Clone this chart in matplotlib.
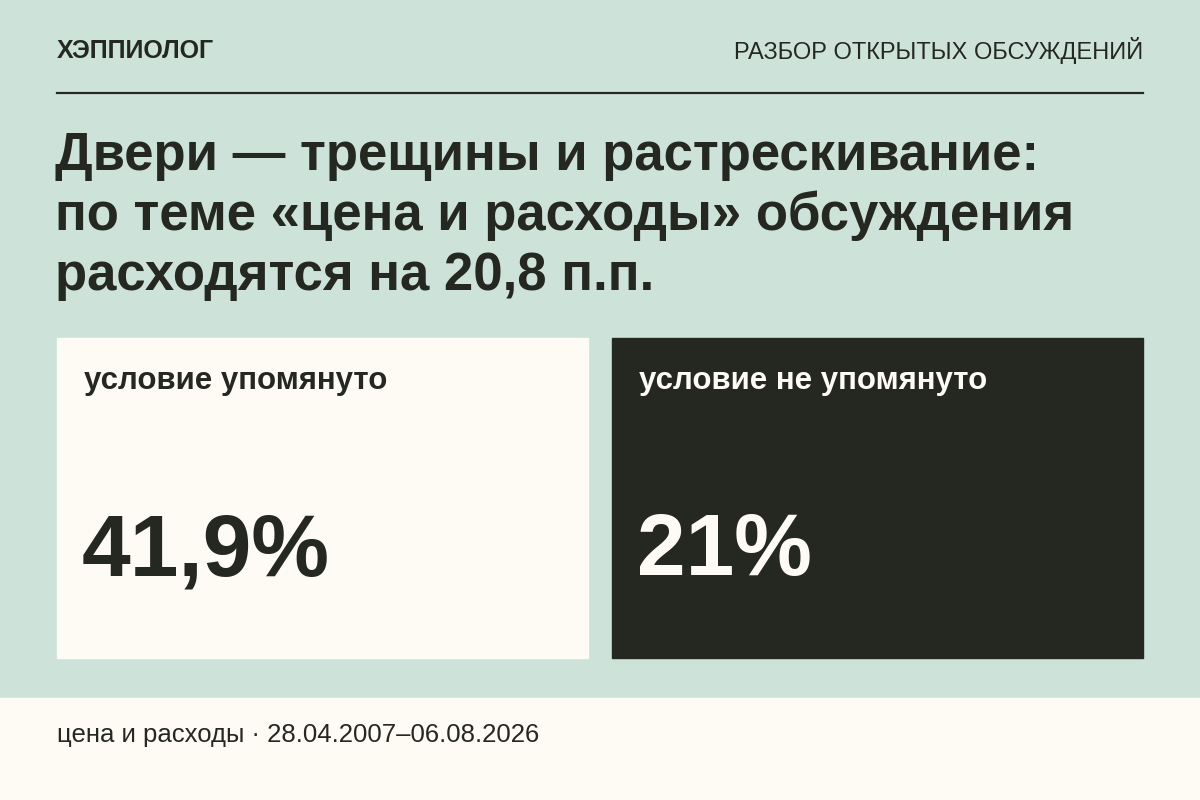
import matplotlib
matplotlib.use("Agg")
import matplotlib.pyplot as plt
from matplotlib.patches import Rectangle

BRAND = "ХЭППИОЛОГ"
SECTION = "РАЗБОР ОТКРЫТЫХ ОБСУЖДЕНИЙ"
TITLE = ["Двери — трещины и растрескивание:",
         "по теме «цена и расходы» обсуждения",
         "расходятся на 20,8 п.п."]
LABELS = ["условие упомянуто", "условие не упомянуто"]
VALUES = ["41,9%", "21%"]
FOOTER = "цена и расходы · 28.04.2007–06.08.2026"

BG = "#cde3da"
CREAM = "#fdfbf4"
DARK = "#252821"

plt.rcParams['font.family'] = ['Liberation Sans', 'DejaVu Sans']
W, H = 1200, 800
fig = plt.figure(figsize=(12, 8), dpi=100)
fig.patch.set_facecolor(BG)

def fy(py): return 1 - py / H
def fx(px): return px / W

def rect(x0, y0, x1, y1, color):
    fig.patches.append(Rectangle((fx(x0), fy(y1)), fx(x1) - fx(x0), fy(y0) - fy(y1),
                                 transform=fig.transFigure, color=color, zorder=0))

fig.text(fx(57), fy(51), BRAND, fontsize=18, fontweight="bold", color=DARK, va="center")
fig.text(fx(1143), fy(51), SECTION, fontsize=17, color=DARK, va="center", ha="right")
fig.add_artist(plt.Line2D([fx(57), fx(1143)], [fy(93), fy(93)], color=DARK, lw=1.6))

for i, line in enumerate(TITLE):
    fig.text(fx(55), fy(156 + i * 60), line, fontsize=38, fontweight="bold", color=DARK, va="center")

panels = [(57, 588, CREAM, DARK), (612, 1143, DARK, CREAM)]
for (x0, x1, fc, tc), lab, val in zip(panels, LABELS, VALUES):
    rect(x0, 338, x1, 658, fc)
    fig.text(fx(x0 + 27), fy(381), lab, fontsize=22.5, fontweight="bold", color=tc, va="center")
    fig.text(fx(x0 + 25), fy(553), val, fontsize=63, fontweight="bold", color=tc, va="center")

rect(0, 698, 1200, 800, CREAM)
fig.text(fx(57), fy(735), FOOTER, fontsize=18.5, color=DARK, va="center")

fig.savefig("out.png", dpi=100, facecolor=BG)
